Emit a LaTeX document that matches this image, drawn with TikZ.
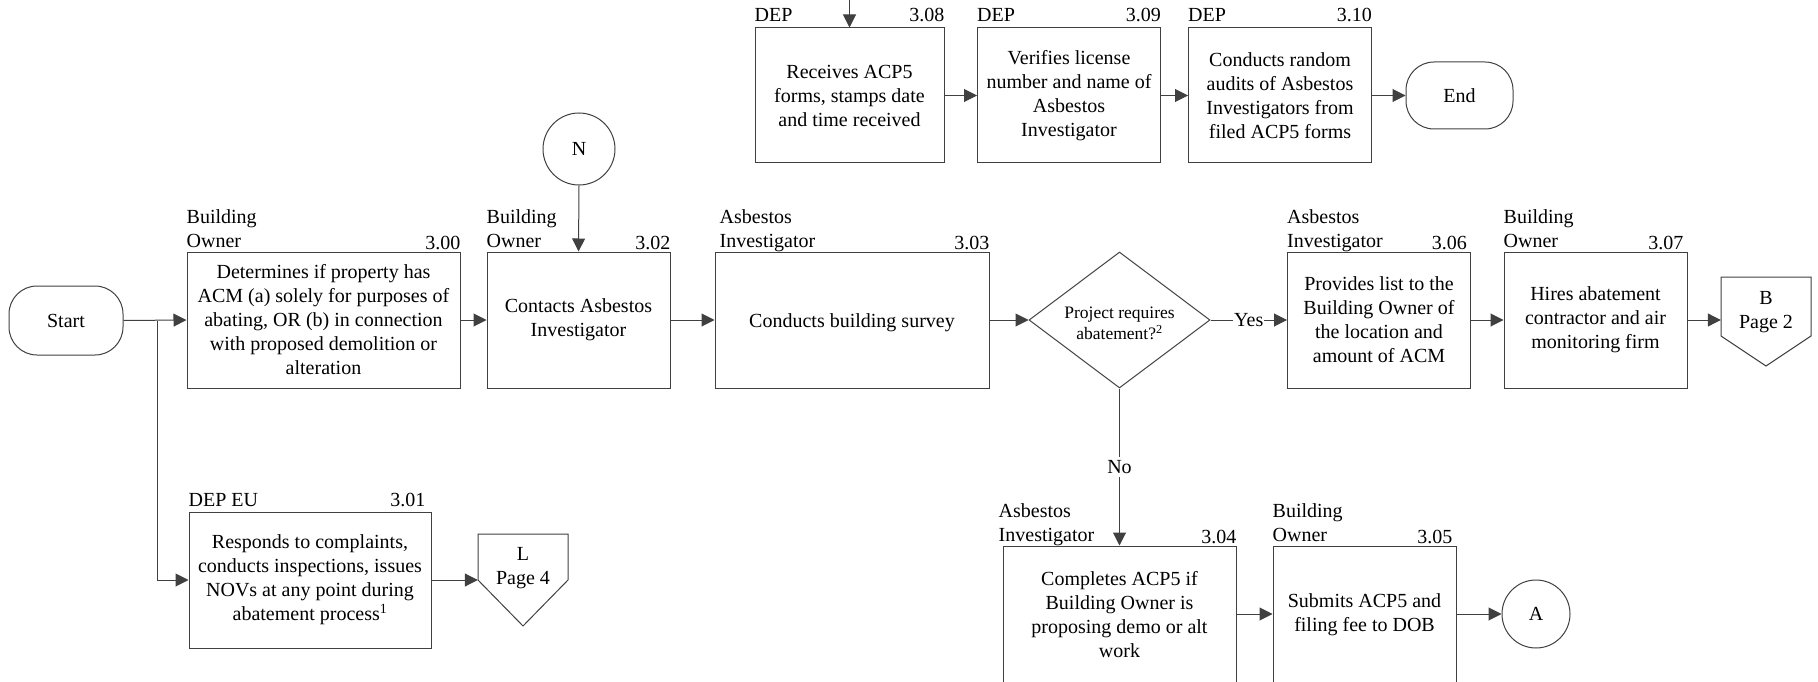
\documentclass[tikz,border=0pt]{standalone}
\usepackage{fontspec}
\setmainfont{Liberation Serif}
\usetikzlibrary{shapes.geometric,arrows.meta,calc}

% two-line caption whose baseline is the last line
\newcommand\rolelines[2]{\begin{tabular}[b]{@{}l@{}}#1\\#2\end{tabular}}
% invisible strut that lowers centred box text a little
\newcommand\toplift{\rule{0pt}{20pt}}

\tikzset{
  every node/.style={font=\fontsize{20}{24}\selectfont},
  ln/.style={draw=black!75, line width=1pt},
  proc/.style={ln, align=center, minimum height=136pt, inner sep=2pt,
               execute at begin node=\toplift},
  term/.style={ln, rounded corners=28pt, inner sep=0pt},
  conn/.style={ln, circle, inner sep=0pt},
  flow/.style={ln, -{Triangle[length=13pt,width=13pt]}},
  role/.style={anchor=base west, inner sep=0pt},
  stepno/.style={anchor=base east, inner sep=0pt},
  pagetext/.style={align=center, inner sep=0pt, minimum width=90pt},
}

\begin{document}
\begin{tikzpicture}[x=1pt, y=-1pt]
\useasboundingbox (0,0) rectangle (1818,682);

% ---------- main row ----------
\node[term, minimum width=114pt, minimum height=69pt] (start) at (66,320.5) {Start};

\node[proc, minimum width=273pt] (b00) at (323.5,320)
  {Determines if property has\\ACM (a) solely for purposes of\\abating, OR (b) in connection\\with proposed demolition or\\alteration};
\node[proc, minimum width=183pt] (b02) at (578.5,320) {Contacts Asbestos\\Investigator};
\node[proc, minimum width=274pt] (b03) at (852,320) {Conducts building survey};
\node[ln, diamond, aspect=1.33, minimum width=181pt, minimum height=136pt, inner sep=0pt,
      align=center, font=\fontsize{17.5}{21}\selectfont] (dec) at (1119.5,320)
  {\rule{0pt}{18pt}Project requires\\abatement?\textsuperscript{2}};
\node[proc, minimum width=183pt] (b06) at (1379,320)
  {Provides list to the\\Building Owner of\\the location and\\amount of ACM};
\node[proc, minimum width=183pt] (b07) at (1595.5,320)
  {Hires abatement\\contractor and air\\monitoring firm};

% off-page connector B
\node[pagetext] (pgB) at (1766,312) {B\\Page 2};
\draw[ln] ($(pgB)+(-45,-35)$) -- ($(pgB)+(45,-35)$) -- ($(pgB)+(45,24)$)
  -- ($(pgB)+(0,54)$) -- ($(pgB)+(-45,24)$) -- cycle;

% on-page connector N
\node[conn, minimum size=72pt] (N) at (579,149) {N};

% ---------- lower left ----------
\node[proc, minimum width=242pt] (b01) at (310,580)
  {Responds to complaints,\\conducts inspections, issues\\NOVs at any point during\\abatement process\textsuperscript{1}};
\node[pagetext] (pgL) at (523,568) {L\\Page 4};
\draw[ln] ($(pgL)+(-45,-34)$) -- ($(pgL)+(45,-34)$) -- ($(pgL)+(45,12)$)
  -- ($(pgL)+(0,58)$) -- ($(pgL)+(-45,12)$) -- cycle;

% ---------- lower right ----------
\node[proc, minimum width=233pt, minimum height=138pt] (b04) at (1119.5,615)
  {Completes ACP5 if\\Building Owner is\\proposing demo or alt\\work};
\node[proc, minimum width=183pt, minimum height=138pt] (b05) at (1364.5,615)
  {Submits ACP5 and\\filing fee to DOB};
\node[conn, minimum size=68pt] (A) at (1536,614) {A};

% ---------- top row ----------
\node[proc, minimum width=189pt, minimum height=135pt] (b08) at (849.5,95.5)
  {Receives ACP5\\forms, stamps date\\and time received};
\node[proc, minimum width=183pt, minimum height=135pt] (b09) at (1069,95.5)
  {Verifies license\\number and name of\\Asbestos\\Investigator};
\node[proc, minimum width=183pt, minimum height=135pt] (b10) at (1280,95.5)
  {Conducts random\\audits of Asbestos\\Investigators from\\filed ACP5 forms};
\node[term, minimum width=107pt, minimum height=67pt] (fin) at (1459.5,95.5) {End};
\coordinate (topin) at (849.5,0);

% ---------- role captions and step numbers ----------
\node[role] (r00) at ($(b00.north west)+(0,-4)$) {\rolelines{Building}{Owner}};
\node[stepno] (n00) at ($(b00.north east)+(0,-2)$) {3.00};
\node[role] (r02) at ($(b02.north west)+(0,-4)$) {\rolelines{Building}{Owner}};
\node[stepno] (n02) at ($(b02.north east)+(0,-2)$) {3.02};
\node[role] (r03) at ($(b03.north west)+(5,-4)$) {\rolelines{Asbestos}{Investigator}};
\node[stepno] (n03) at ($(b03.north east)+(0,-2)$) {3.03};
\node[role] (r06) at ($(b06.north west)+(0,-4)$) {\rolelines{Asbestos}{Investigator}};
\node[stepno] (n06) at ($(b06.north east)+(-4,-2)$) {3.06};
\node[role] (r07) at ($(b07.north west)+(0,-4)$) {\rolelines{Building}{Owner}};
\node[stepno] (n07) at ($(b07.north east)+(-4,-2)$) {3.07};
\node[role] (r01) at ($(b01.north west)+(0,-5)$) {DEP EU};
\node[stepno] (n01) at ($(b01.north east)+(-6,-5)$) {3.01};
\node[role] (r04) at ($(b04.north west)+(-4,-4)$) {\rolelines{Asbestos}{Investigator}};
\node[stepno] (n04) at ($(b04.north east)+(0,-2)$) {3.04};
\node[role] (r05) at ($(b05.north west)+(0,-4)$) {\rolelines{Building}{Owner}};
\node[stepno] (n05) at ($(b05.north east)+(-4,-2)$) {3.05};
\node[role] (r08) at ($(b08.north west)+(0,-6)$) {DEP};
\node[stepno] (n08) at ($(b08.north east)+(0,-6)$) {3.08};
\node[role] (r09) at ($(b09.north west)+(0,-6)$) {DEP};
\node[stepno] (n09) at ($(b09.north east)+(0,-6)$) {3.09};
\node[role] (r10) at ($(b10.north west)+(0,-6)$) {DEP};
\node[stepno] (n10) at ($(b10.north east)+(0,-6)$) {3.10};

% ---------- connectors ----------
\coordinate (split) at (157,320.5);
\draw[flow] (start.east) -- (b00.west);
\draw[flow] (split) |- (b01.west);
\draw[flow] (b00.east) -- (b02.west);
\draw[flow] (N.south) -- (b02.north);
\draw[flow] (b02.east) -- (b03.west);
\draw[flow] (b03.east) -- (dec.west);
\draw[flow] (dec.east) -- node[fill=white, inner xsep=1pt, inner ysep=2pt] (yes) {Yes} (b06.west);
\draw[flow] (b06.east) -- (b07.west);
\draw[flow] (b07.east) -- (b07.east -| pgB.west);
\draw[flow] (dec.south) -- node[fill=white, inner xsep=2pt, inner ysep=3pt] (no) {No} (b04.north);
\draw[flow] (b04.east |- A) -- (b05.west |- A);
\draw[flow] (b05.east |- A) -- (A.west);
\draw[flow] (b01.east) -- (b01.east -| pgL.west);
\draw[flow] (topin) -- (b08.north);
\draw[flow] (b08.east) -- (b09.west);
\draw[flow] (b09.east) -- (b10.west);
\draw[flow] (b10.east) -- (fin.west);
\end{tikzpicture}
\end{document}
